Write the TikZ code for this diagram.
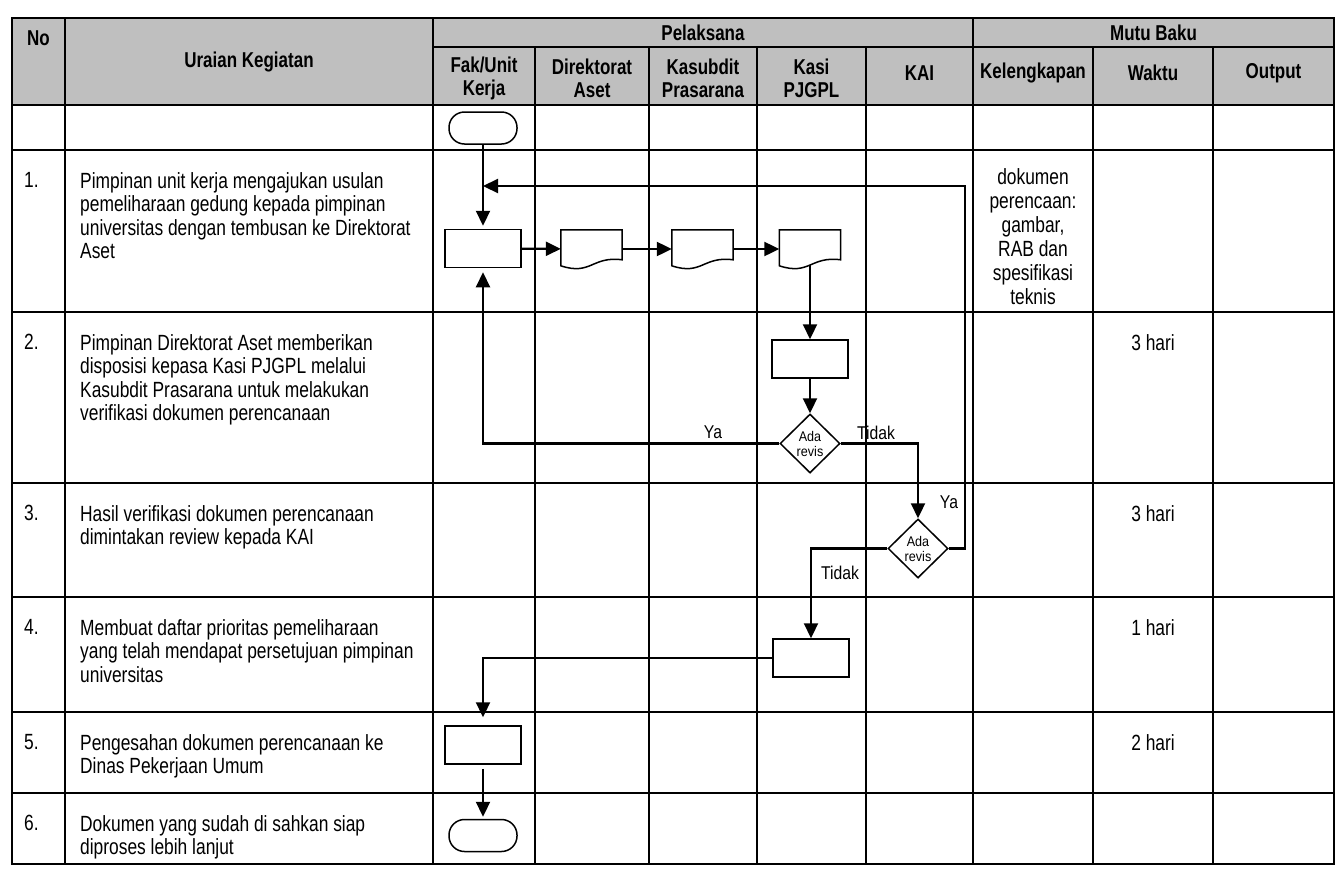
\documentclass[tikz,border=0pt]{standalone}
\usepackage{fontspec}
\setmainfont{Liberation Sans}[FakeStretch=0.79]
\newfontfamily\lblfont{Liberation Sans}[FakeStretch=0.85]
\newfontfamily\decfont{Liberation Sans}[FakeStretch=0.9]
\usetikzlibrary{arrows.meta,shapes.geometric,calc}
\definecolor{hdrgray}{RGB}{191,191,191}
\newcommand\drawdoc[1]{\draw[shapeline] (#1.north west) -- (#1.north east) -- ($(#1.north east)+(0,30)$) .. controls ($(#1.north east)+(-30.5,26)$) and ($(#1.north west)+(30.5,46)$) .. ($(#1.north west)+(0,36)$) -- cycle;}
\begin{document}
\begin{tikzpicture}[x=1pt,y=-1pt,
  grid/.style={line width=2.3pt},
  shapeline/.style={line width=1.5pt},
  hdr/.style={font=\bfseries\fontsize{21.5}{23}\selectfont, align=center, inner sep=0},
  body/.style={font=\fontsize{22}{23.5}\selectfont, align=left, anchor=north west, inner sep=0},
  ctr/.style={font=\fontsize{22}{24}\selectfont, align=center, anchor=north, inner sep=0},
  proc/.style={draw, shapeline, minimum width=76pt, minimum height=38pt, inner sep=0},
  term/.style={draw, shapeline, rounded corners=15.5pt, minimum width=68pt, minimum height=32pt, inner sep=0},
  docnode/.style={minimum width=61pt, minimum height=38pt, inner sep=0},
  dec/.style={draw, diamond, shapeline, minimum width=60pt, minimum height=59pt, inner sep=0, font=\decfont\fontsize{14}{15}\selectfont, align=center},
  flow/.style={line width=2.2pt, -{Triangle[length=15pt,width=14pt]}},
  lbl/.style={font=\lblfont\fontsize{18.5}{20}\selectfont, inner sep=0},
]
\fill[white] (0,0) rectangle (1338,868);
\useasboundingbox (0,0) rectangle (1338,868);
% header background
\fill[hdrgray] (12,18) rectangle (1334,105);
% grid
\draw[grid] (12,18) rectangle (1334,864);
\draw[grid] (433,47) -- (1334,47);
\foreach \yy in {105,150,312,483,597,712,793} \draw[grid] (12,\yy) -- (1334,\yy);
\foreach \xx in {65,433,973} \draw[grid] (\xx,18) -- (\xx,864);
\foreach \xx in {535,649,757,866,1093,1213} \draw[grid] (\xx,47) -- (\xx,864);
% header texts
\node[hdr] (hNo) at (38.5,38) {No};
\node[hdr] (hUr) at (249,62) {Uraian Kegiatan};
\node[hdr] (hPel) at (703,32.5) {Pelaksana};
\node[hdr] (hMut) at (1153.5,32.5) {Mutu Baku};
\node[hdr] (hFak) at (484,78) {Fak/Unit\\Kerja};
\node[hdr] (hDir) at (592,78) {Direktorat\\Aset};
\node[hdr] (hKas) at (703,78) {Kasubdit\\Prasarana};
\node[hdr] (hKasi) at (811.5,78) {Kasi\\PJGPL};
\node[hdr] (hKAI) at (919.5,73) {KAI};
\node[hdr] (hKel) at (1033,73) {Kelengkapan};
\node[hdr] (hWak) at (1153,73) {Waktu};
\node[hdr] (hOut) at (1273.5,73) {Output};
% numbers
\node[body] (n1) at (24,172) {1.};
\node[body] (n2) at (24,334) {2.};
\node[body] (n3) at (24,505) {3.};
\node[body] (n4) at (24,619) {4.};
\node[body] (n5) at (24,734) {5.};
\node[body] (n6) at (24,815) {6.};
% descriptions
\node[body] (t1) at (80,172) {Pimpinan unit kerja mengajukan usulan\\pemeliharaan gedung kepada pimpinan\\universitas dengan tembusan ke Direktorat\\Aset};
\node[body] (t2) at (80,334) {Pimpinan Direktorat Aset memberikan\\disposisi kepasa Kasi PJGPL melalui\\Kasubdit Prasarana untuk melakukan\\verifikasi dokumen perencanaan};
\node[body] (t3) at (80,505) {Hasil verifikasi dokumen perencanaan\\dimintakan review kepada KAI};
\node[body] (t4) at (80,619) {Membuat daftar prioritas pemeliharaan\\yang telah mendapat persetujuan pimpinan\\universitas};
\node[body] (t5) at (80,734) {Pengesahan dokumen perencanaan ke\\Dinas Pekerjaan Umum};
\node[body] (t6) at (80,815) {Dokumen yang sudah di sahkan siap\\diproses lebih lanjut};
% kelengkapan and waktu
\node[ctr] (kel1) at (1033,168) {dokumen\\perencaan:\\gambar,\\RAB dan\\spesifikasi\\teknis};
\node[ctr] (w2) at (1153,334) {3 hari};
\node[ctr] (w3) at (1153,505) {3 hari};
\node[ctr] (w4) at (1153,619) {1 hari};
\node[ctr] (w5) at (1153,734) {2 hari};
% flow shapes
\node[term] (start) at (483,128) {};
\node[proc] (p1) at (483,248.5) {};
\node[docnode] (d2) at (591.5,249) {};
\node[docnode] (d3) at (702.5,249) {};
\node[docnode] (d4) at (810,249) {};
\drawdoc{d2}
\drawdoc{d3}
\drawdoc{d4}
\coordinate (d4b) at ($(d4.north)+(0,35.3)$);
\node[proc] (p2) at (810,359) {};
\node[dec] (k1) at (810,443.5) {Ada\\revis};
\node[dec] (k2) at (918,548.5) {Ada\\revis};
\node[proc] (p4) at (811,658) {};
\node[proc] (p5) at (483,745) {};
\node[term] (end) at (483,835.5) {};
\coordinate (fbin) at (483,186);
% connectors
\draw[flow, shorten >=3pt] (start) -- (p1);
\draw[flow] (p1) -- (d2);
\draw[flow] (d2) -- (d3);
\draw[flow] (d3) -- (d4);
\draw[flow] (d4b) -- (p2.north);
\draw[flow] (p2) -- (k1);
\draw[flow, shorten >=4pt] (k1.west) -| (p1.south);
\draw[flow] (k1.east) -| (k2.north);
\draw[flow] (k2.east) -- ++(16,0) |- (fbin);
\draw[flow] (k2.west) -| (p4.north);
\draw[flow, shorten >=8pt] (p4.west) -| (p5.north);
\draw[flow, shorten <=4pt, shorten >=2pt] (p5) -- (end);
% labels
\node[lbl] (ya1) at (713,432) {Ya};
\node[lbl] (td1) at (876,433) {Tidak};
\node[lbl] (ya2) at (949,502) {Ya};
\node[lbl] (td2) at (840,573) {Tidak};
\end{tikzpicture}
\end{document}
